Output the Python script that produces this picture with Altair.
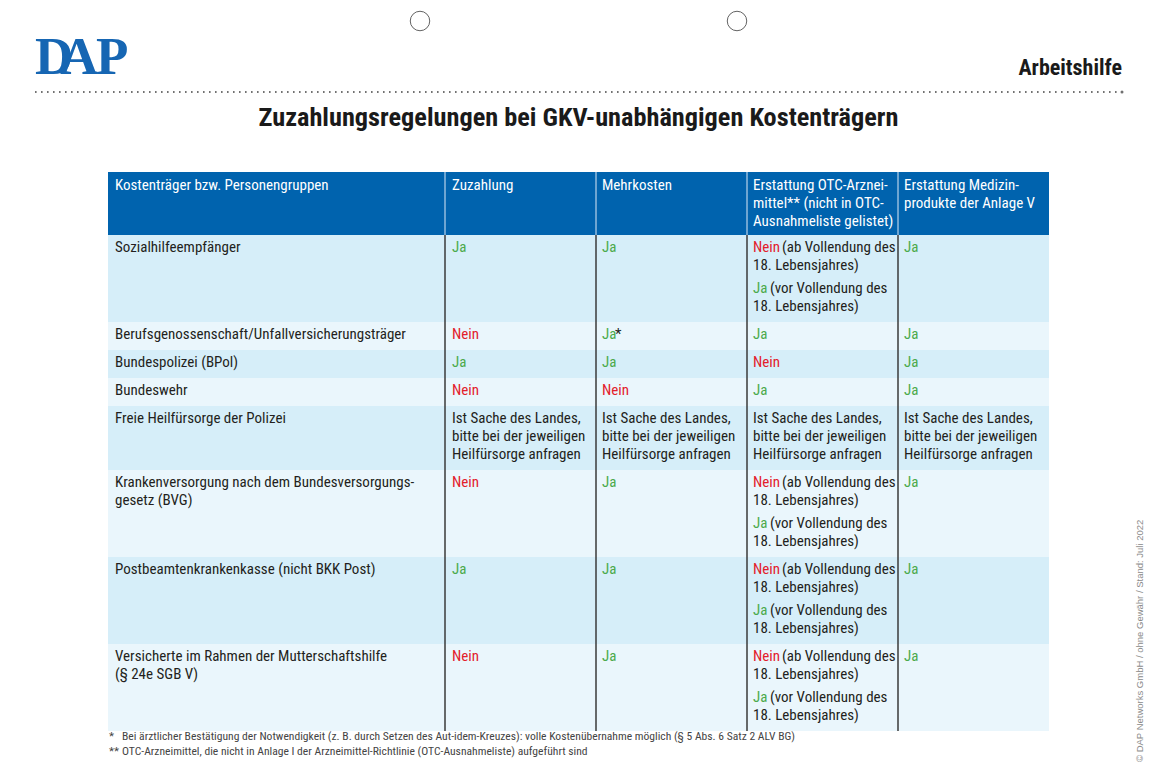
import altair as alt
import pandas as pd

# ---------------- content ----------------
TITLE = "Zuzahlungsregelungen bei GKV-unabhängigen Kostenträgern"
TAG = "Arbeitshilfe"
logo_letters = ["D", "A", "P"]

headers = [
    ["Kostenträger bzw. Personengruppen"],
    ["Zuzahlung"],
    ["Mehrkosten"],
    ["Erstattung OTC-Arznei-", "mittel** (nicht in OTC-", "Ausnahmeliste gelistet)"],
    ["Erstattung Medizin-", "produkte der Anlage V"],
]

row_labels = [
    ["Sozialhilfeempfänger"],
    ["Berufsgenossenschaft/Unfallversicherungsträger"],
    ["Bundespolizei (BPol)"],
    ["Bundeswehr"],
    ["Freie Heilfürsorge der Polizei"],
    ["Krankenversorgung nach dem Bundesversorgungs-", "gesetz (BVG)"],
    ["Postbeamtenkrankenkasse (nicht BKK Post)"],
    ["Versicherte im Rahmen der Mutterschaftshilfe", "(§ 24e SGB V)"],
]

zuzahlung = ["Ja", "Nein", "Ja", "Nein", "Land", "Nein", "Ja", "Nein"]
mehrkosten = ["Ja", "Ja*", "Ja", "Nein", "Land", "Ja", "Ja", "Ja"]
otc = ["Alter", "Ja", "Nein", "Ja", "Land", "Alter", "Alter", "Alter"]
medizin = ["Ja", "Ja", "Ja", "Ja", "Land", "Ja", "Ja", "Ja"]

land_text = ["Ist Sache des Landes,", "bitte bei der jeweiligen", "Heilfürsorge anfragen"]
alter_ab = ["(ab Vollendung des", "18. Lebensjahres)"]
alter_vor = ["(vor Vollendung des", "18. Lebensjahres)"]

footnote_marks = ["*", "**"]
footnote_texts = [
    "Bei ärztlicher Bestätigung der Notwendigkeit (z. B. durch Setzen des Aut-idem-Kreuzes): volle Kostenübernahme möglich (§ 5 Abs. 6 Satz 2 ALV BG)",
    "OTC-Arzneimittel, die nicht in Anlage I der Arzneimittel-Richtlinie (OTC-Ausnahmeliste) aufgeführt sind",
]
COPYRIGHT = "© DAP Networks GmbH / ohne Gewähr / Stand: Juli 2022"

# ---------------- style / layout ----------------
W, H, M = 1137, 762, 8
FONT = "Roboto Condensed, Liberation Sans, sans-serif"
FONT_W = "Liberation Sans, Arial, sans-serif"
GREEN, RED, INK = "#4caa4c", "#e3202b", "#231f20"
HEAD_BG, DARK_BG, LIGHT_BG = "#0063ae", "#d6eef9", "#eaf6fc"
BODY_SIZE = 15

col_edges = [108, 445, 596, 747, 898, 1049]
pad_x = [7, 7, 6, 6, 6]
HEAD_TOP, HEAD_BOT = 172, 235
LINE, GAP, TOP, BOTTOM = 18, 5, 12, 16
HEAD_LINE0 = 185
# approximate advance widths of the coloured prefixes (+ a space)
PREFIX_W = {"Nein": 29.0, "Ja": 17.0, "Ja*": 13.0}

def cell_paragraphs(code):
    """list of paragraphs -> list of lines -> list of (text, color, offset)"""
    if code == "Ja":
        return [[[("Ja", GREEN, 0)]]]
    if code == "Nein":
        return [[[("Nein", RED, 0)]]]
    if code == "Ja*":
        return [[[("Ja", GREEN, 0), ("*", INK, PREFIX_W["Ja*"])]]]
    if code == "Land":
        return [[[(t, INK, 0)] for t in land_text]]
    if code == "Alter":
        p1 = [[("Nein", RED, 0), (alter_ab[0], INK, PREFIX_W["Nein"])], [(alter_ab[1], INK, 0)]]
        p2 = [[("Ja", GREEN, 0), (alter_vor[0], INK, PREFIX_W["Ja"])], [(alter_vor[1], INK, 0)]]
        return [p1, p2]
    return [[[(code, INK, 0)]]]

def para_height(paras):
    n = sum(len(p) for p in paras)
    return (n - 1) * LINE + (len(paras) - 1) * GAP

rect_rows, text_rows = [], []
rect_rows.append(dict(x=col_edges[0], x2=col_edges[-1], y=HEAD_TOP, y2=HEAD_BOT, fill=HEAD_BG))
for c, lines in enumerate(headers):
    for i, t in enumerate(lines):
        text_rows.append(dict(x=col_edges[c] + pad_x[c], y=HEAD_LINE0 + i * LINE, text=t, color="#ffffff"))

columns = [zuzahlung, mehrkosten, otc, medizin]
y = HEAD_BOT
for r, label in enumerate(row_labels):
    cells = [[[[(t, INK, 0)] for t in label]]] + [cell_paragraphs(col[r]) for col in columns]
    h = max(para_height(p) for p in cells) + TOP + BOTTOM
    rect_rows.append(dict(x=col_edges[0], x2=col_edges[-1], y=y, y2=y + h,
                          fill=DARK_BG if r % 2 == 0 else LIGHT_BG))
    for c, paras in enumerate(cells):
        ly = y + TOP
        for para in paras:
            for line in para:
                for (t, colr, off) in line:
                    text_rows.append(dict(x=col_edges[c] + pad_x[c] + off, y=ly, text=t, color=colr))
                ly += LINE
            ly += GAP
    y += h
TABLE_BOT = y

rects = pd.DataFrame(rect_rows)
texts = pd.DataFrame(text_rows)

xs = alt.Scale(domain=[M, W + M])
ys = alt.Scale(domain=[M, H + M], reverse=True)
X = lambda f: alt.X(f, type="quantitative", scale=xs, axis=None)
Y = lambda f: alt.Y(f, type="quantitative", scale=ys, axis=None)

base_rect = alt.Chart(rects).mark_rect(strokeWidth=0).encode(
    x=X("x"), x2="x2", y=Y("y"), y2="y2", fill=alt.Fill("fill:N", scale=None))

sep = pd.DataFrame(dict(x=col_edges[1:-1]))
head_sep = alt.Chart(sep).mark_rule(color="#dbe9f6", strokeWidth=1).encode(
    x=X("x"), y=alt.Y("a:Q", scale=ys, axis=None), y2="b:Q"
).transform_calculate(a=str(HEAD_TOP), b=str(HEAD_BOT))
body_sep = alt.Chart(sep).mark_rule(color="#3a3a3a", strokeWidth=1.5).encode(
    x=X("x"), y=alt.Y("a:Q", scale=ys, axis=None), y2="b:Q"
).transform_calculate(a=str(HEAD_BOT), b=str(TABLE_BOT))

cell_text = alt.Chart(texts).mark_text(
    align="left", baseline="middle", font=FONT, fontSize=BODY_SIZE
).encode(x=X("x"), y=Y("y"), text="text:N", color=alt.Color("color:N", scale=None))

title = alt.Chart(pd.DataFrame(dict(x=[578.5], y=[118], t=[TITLE]))).mark_text(
    align="center", baseline="middle", font=FONT, fontWeight="bold", fontSize=26.3, color="#1a1a1a"
).encode(x=X("x"), y=Y("y"), text="t:N")

tag = alt.Chart(pd.DataFrame(dict(x=[1122], y=[68], t=[TAG]))).mark_text(
    align="right", baseline="middle", font=FONT, fontWeight="bold", fontSize=22, color="#1a1a1a"
).encode(x=X("x"), y=Y("y"), text="t:N")

logo_df = pd.DataFrame(dict(t=logo_letters, x=[35, 60, 96], y=[74, 74, 74]))
logo = alt.Chart(logo_df).mark_text(
    align="left", baseline="alphabetic", font="Liberation Serif, serif", fontWeight="bold",
    fontSize=53, color="#1666b3"
).encode(x=X("x"), y=Y("y"), text="t:N")

dots = alt.Chart(pd.DataFrame(dict(a=[35], b=[1118], y=[92]))).mark_rule(
    color="#444444", strokeWidth=1.6, strokeDash=[1.6, 4.4]
).encode(x=X("a"), x2="b", y=Y("y"))
enddot = alt.Chart(pd.DataFrame(dict(x=[1122], y=[92]))).mark_point(
    shape="circle", filled=True, size=9, color="#333333"
).encode(x=X("x"), y=Y("y"))

holes = alt.Chart(pd.DataFrame(dict(x=[420, 737], y=[21, 21]))).mark_point(
    shape="circle", filled=False, size=380, color="#222222", strokeWidth=1
).encode(x=X("x"), y=Y("y"))

fn = pd.DataFrame(dict(m=footnote_marks, t=footnote_texts, y=[737, 752]))
fn_marks = alt.Chart(fn).mark_text(
    align="left", baseline="middle", font=FONT, fontSize=11.6, color="#444444"
).encode(x=alt.X("mx:Q", scale=xs, axis=None), y=Y("y"), text="m:N").transform_calculate(mx="109")
fn_texts = alt.Chart(fn).mark_text(
    align="left", baseline="middle", font=FONT, fontSize=11.6, color="#444444"
).encode(x=alt.X("tx:Q", scale=xs, axis=None), y=Y("y"), text="t:N").transform_calculate(tx="122")

copy = alt.Chart(pd.DataFrame(dict(x=[1140], y=[762], t=[COPYRIGHT]))).mark_text(
    align="left", baseline="middle", angle=270, font=FONT_W, fontSize=9.5, color="#8a8a8a"
).encode(x=X("x"), y=Y("y"), text="t:N")

chart = alt.layer(
    base_rect, head_sep, body_sep, cell_text, title, tag, logo, dots, enddot, holes,
    fn_marks, fn_texts, copy
).properties(width=W, height=H, padding=0, autosize=alt.AutoSizeParams(type="none")
).configure(background="#ffffff").configure_view(stroke=None)

chart.save("out.html", embed_options={"renderer": "svg", "actions": False})
